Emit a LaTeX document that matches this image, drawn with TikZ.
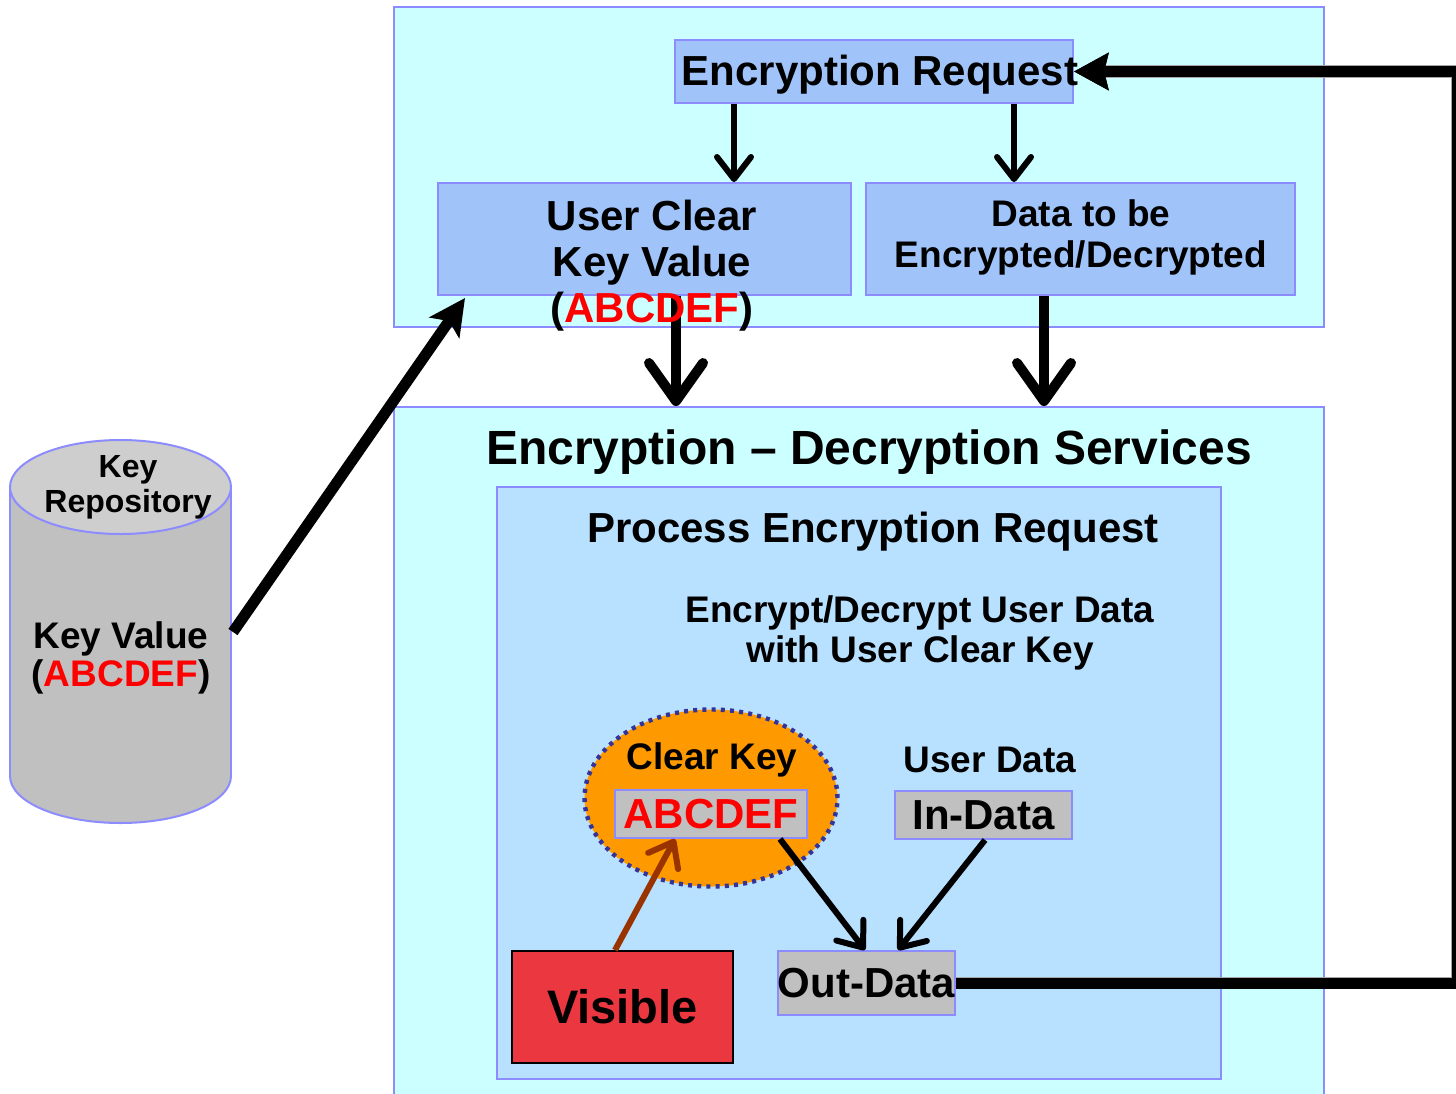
\documentclass[tikz,border=0pt]{standalone}
\usepackage{fontspec}
\setmainfont{Liberation Sans}
\usetikzlibrary{arrows.meta,shapes.geometric}

\definecolor{panel}{RGB}{204,255,255}
\definecolor{rim}{RGB}{140,140,255}
\definecolor{reqblue}{RGB}{160,196,250}
\definecolor{inner}{RGB}{184,224,255}
\definecolor{silver}{RGB}{192,192,192}
\definecolor{lidgray}{RGB}{206,206,206}
\definecolor{keyorange}{RGB}{255,153,0}
\definecolor{dotblue}{RGB}{51,51,153}
\definecolor{keyred}{RGB}{255,0,0}
\definecolor{visred}{RGB}{235,56,64}
\definecolor{rust}{RGB}{153,51,0}

\tikzset{
  panelbox/.style={draw=rim, line width=1pt, fill=panel, inner sep=0pt},
  reqbox/.style={draw=rim, line width=1pt, fill=reqblue, inner sep=0pt},
  innerbox/.style={draw=rim, line width=1pt, fill=inner, inner sep=0pt},
  graybox/.style={draw=rim, line width=1pt, fill=silver, inner sep=0pt},
  label/.style={font=\bfseries, align=center, inner sep=0pt},
  thinarrow/.style={line width=3pt, -{Straight Barb[round, length=11pt, width=17pt]}},
  fatarrow/.style={line width=5pt, -{Straight Barb[round, length=19pt, width=27pt]}},
  swept/.style={line width=5.5pt, -{Stealth[length=18pt, width=18pt, inset=4pt]}},
  loopback/.style={line width=5.5pt, -{Stealth[length=17pt, width=18pt, inset=2pt]}},
}

\begin{document}
\begin{tikzpicture}[x=0.5pt, y=-0.5pt]
\useasboundingbox (0,0) rectangle (1456,1093);

% request panel and its boxes
\node[panelbox, minimum width=465pt, minimum height=160pt] (top) at (859,167) {};
\node[reqbox, minimum width=199pt, minimum height=31.5pt] (er) at (874,71.5) {};
\node[label, font=\fontsize{21}{23}\selectfont\bfseries] at (880,75) {Encryption Request};
\node[reqbox, minimum width=206.5pt, minimum height=56pt] (ucb) at (644.5,239) {};
\node[reqbox, minimum width=214.5pt, minimum height=56pt] (dtb) at (1080.5,239) {};
\node[label, font=\fontsize{18.5}{20.5}\selectfont\bfseries] at (1081,237) {Data to be\\Encrypted/Decrypted};

% services panel
\node[panelbox, minimum width=465pt, minimum height=346.5pt] (svc) at (859,753.5) {};
\node[label, font=\fontsize{24}{26}\selectfont\bfseries] at (869,452) {Encryption -- Decryption Services};
\node[innerbox, minimum width=362pt, minimum height=296pt] (proc) at (859,783) {};
\node[label, font=\fontsize{21}{23}\selectfont\bfseries] at (873,532) {Process Encryption Request};
\node[label, font=\fontsize{18.5}{20}\selectfont\bfseries] at (920,633) {Encrypt/Decrypt User Data\\with User Clear Key};

% clear key
\node[ellipse, fill=keyorange, draw=dotblue, line width=2.2pt, dash pattern=on 2pt off 2.6pt,
      minimum width=126.5pt, minimum height=88.5pt, inner sep=0pt] (ck) at (711,798) {};
\node[label, font=\fontsize{18.5}{20}\selectfont\bfseries] at (712,760) {Clear Key};
\node[graybox, minimum width=96pt, minimum height=24pt, text=keyred,
      font=\fontsize{21}{23}\selectfont\bfseries] (abc) at (711,814) {\raisebox{-1.5pt}{ABCDEF}};

% user data
\node[label, font=\fontsize{18.5}{20}\selectfont\bfseries] at (990,760) {User Data};
\node[graybox, minimum width=88.5pt, minimum height=24pt,
      font=\fontsize{21}{23}\selectfont\bfseries] (ind) at (983.5,815) {\raisebox{-1pt}{In-Data}};
\node[graybox, minimum width=88.5pt, minimum height=32pt,
      font=\fontsize{21}{23}\selectfont\bfseries] (out) at (866.5,983) {\raisebox{-1.5pt}{Out-Data}};

% visible
\node[draw=black, line width=0.9pt, fill=visred, minimum width=110.5pt, minimum height=56pt,
      inner sep=0pt, font=\fontsize{23.5}{25}\selectfont\bfseries] (vis) at (622.5,1007) {\raisebox{-2pt}{Visible}};

% key repository drum
\fill[silver, draw=rim, line width=1pt] (120.5,776) ellipse [x radius=55.25pt, y radius=23.5pt];
\fill[silver] (10,487) rectangle (231,776);
\draw[rim, line width=1pt] (10,487) -- (10,776) (231,487) -- (231,776);
\fill[lidgray, draw=rim, line width=1pt] (120.5,487) ellipse [x radius=55.25pt, y radius=23.5pt];
\node[label, font=\fontsize{16}{17.5}\selectfont\bfseries] at (128,487) {Key\\Repository};
\node[label, font=\fontsize{18.5}{19}\selectfont\bfseries] at (121,658) {Key Value\\(\textcolor{keyred}{ABCDEF})};
\coordinate (repo) at (233,632);

% flows in the request panel
\draw[thinarrow] ([xshift=-70pt]er.south) -- ([xshift=44.75pt]ucb.north);
\draw[thinarrow] ([xshift=70pt]er.south) -- ([xshift=-33.25pt]dtb.north);
\draw[fatarrow] ([xshift=15.75pt]ucb.south) -- ([xshift=-91.5pt]svc.north);
\draw[fatarrow] ([xshift=-18.25pt]dtb.south) -- ([xshift=92.5pt]svc.north);

% key value label drawn over the arrow
\node[label, font=\fontsize{21}{23}\selectfont\bfseries] at (652,266) {User Clear\\Key Value\\(\textcolor{keyred}{ABCDEF})};

% key fetched from the repository
\draw[swept] (repo) -- ([xshift=14pt, yshift=-1pt]ucb.south west);

% flows inside the service
\draw[rust, line width=3pt, -{Straight Barb[round, length=11pt, width=17pt]}]
  ([xshift=-3.75pt]vis.north) -- ([xshift=-18pt]abc.south);
\draw[thinarrow] ([xshift=34.5pt]abc.south) -- ([xshift=-0.75pt]out.north);
\draw[thinarrow] ([xshift=0.75pt]ind.south) -- ([xshift=15.75pt]out.north);

% result returned to the request
\draw[loopback, preaction={draw=gray!70, line width=6.3pt}] (out.east) -- ++(501,0) |- (er.east);
\draw[loopback] (out.east) -- ++(501,0) |- (er.east);
\end{tikzpicture}
\end{document}
